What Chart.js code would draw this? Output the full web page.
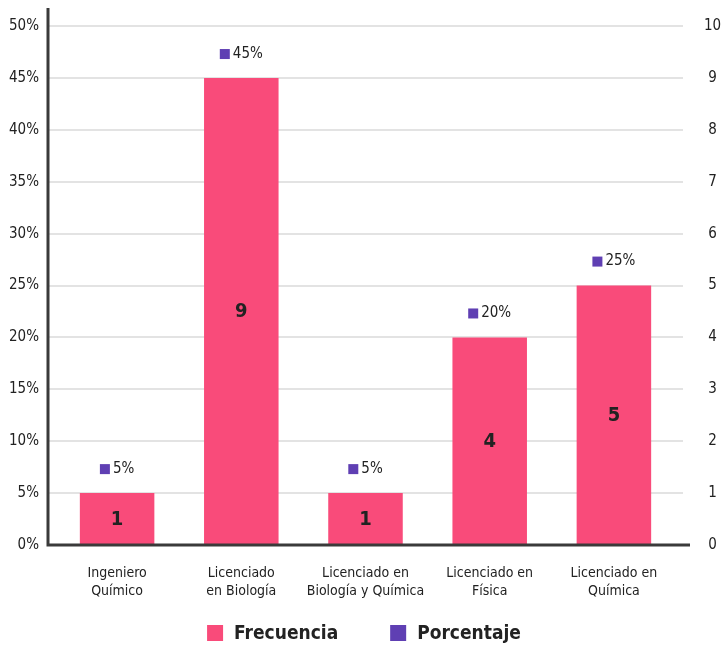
<!DOCTYPE html>
<html>
<head>
<meta charset="utf-8">
<script src="https://cdn.jsdelivr.net/npm/chart.js@4.4.1/dist/chart.umd.min.js"></script>
<style>
  body { margin: 0; background: #fff; }
  #wrap { width: 724px; height: 646px; }
</style>
</head>
<body>
<div id="wrap"><canvas id="chart"></canvas></div>
<script>
const categories = [
    ['Ingeniero', 'Químico'],
    ['Licenciado', 'en Biología'],
    ['Licenciado en', 'Biología y Química'],
    ['Licenciado en', 'Física'],
    ['Licenciado en', 'Química']
];
const frecuencia = [1, 9, 1, 4, 5];
const porcentaje = [5, 45, 5, 20, 25];
const pctTicks = { min: 0, max: 50, step: 5 };
const freqTicks = { min: 0, max: 10, step: 1 };

const FONT = "'DejaVu Sans Condensed', 'DejaVu Sans', sans-serif";
const PINK = '#F94B7A';
const PURPLE = '#5F3FB3';
const TEXT = '#222';
const AXIS = '#3a3a3a';
const GRID = '#e3e3e3';

// room above the top tick (reference axis runs a bit past 50%)
const headroom = 1.035;

const extras = {
    id: 'extras',
    afterDatasetsDraw(chart) {
        const ctx = chart.ctx;
        const area = chart.chartArea;
        ctx.save();

        // values inside bars
        const bars = chart.getDatasetMeta(0);
        ctx.font = 'bold 20px ' + FONT;
        ctx.fillStyle = TEXT;
        ctx.textAlign = 'center';
        ctx.textBaseline = 'middle';
        bars.data.forEach((bar, i) => {
            ctx.fillText(String(frecuencia[i]), bar.x, (bar.y + bar.base) / 2 + 1);
        });

        // percentage labels with legend key above bars
        const pts = chart.getDatasetMeta(1);
        ctx.font = '15px ' + FONT;
        ctx.textAlign = 'left';
        pts.data.forEach((pt, i) => {
            const txt = porcentaje[i] + '%';
            const tw = ctx.measureText(txt).width;
            const gw = 10 + 3 + tw;
            const x0 = pt.x - gw / 2;
            const y0 = pt.y - 24;
            ctx.fillStyle = PURPLE;
            ctx.fillRect(x0, y0 - 5, 10, 10);
            ctx.fillStyle = TEXT;
            ctx.fillText(txt, x0 + 13, y0);
        });

        // axis lines
        ctx.strokeStyle = AXIS;
        ctx.lineWidth = 3;
        ctx.beginPath();
        ctx.moveTo(area.left - 7, area.top);
        ctx.lineTo(area.left - 7, area.bottom + 1.5);
        ctx.moveTo(area.left - 8.5, area.bottom);
        ctx.lineTo(area.right + 14, area.bottom);
        ctx.stroke();

        // legend
        ctx.font = 'bold 19px ' + FONT;
        ctx.textBaseline = 'middle';
        const items = chart.data.datasets.map(d => ({
            text: d.label,
            color: d.legendColor,
            w: 16 + 11 + ctx.measureText(d.label).width
        }));
        const gap = 52;
        const total = items.reduce((s, it) => s + it.w, 0) + gap * (items.length - 1);
        let x = chart.width / 2 + 2 - total / 2;
        const ly = chart.height - 13;
        items.forEach(it => {
            ctx.fillStyle = it.color;
            ctx.fillRect(x, ly - 8, 16, 16);
            ctx.fillStyle = TEXT;
            ctx.fillText(it.text, x + 27, ly + 1);
            x += it.w + gap;
        });

        ctx.restore();
    }
};

new Chart(document.getElementById('chart'), {
    data: {
        labels: categories,
        datasets: [
            {
                type: 'bar',
                label: 'Frecuencia',
                data: frecuencia,
                yAxisID: 'y1',
                backgroundColor: PINK,
                legendColor: PINK,
                barPercentage: 0.6,
                categoryPercentage: 1,
                order: 2
            },
            {
                type: 'line',
                label: 'Porcentaje',
                data: porcentaje,
                yAxisID: 'y',
                showLine: false,
                pointRadius: 0,
                pointHoverRadius: 0,
                backgroundColor: PURPLE,
                legendColor: PURPLE,
                order: 1
            }
        ]
    },
    options: {
        responsive: true,
        maintainAspectRatio: false,
        animation: false,
        events: [],
        layout: { padding: { top: 8, right: 0, bottom: 45, left: 0 } },
        plugins: {
            legend: { display: false },
            tooltip: { enabled: false }
        },
        scales: {
            x: {
                grid: { display: false, drawTicks: false },
                border: { display: false },
                ticks: {
                    font: { family: FONT, size: 14, lineHeight: 1.3 },
                    color: TEXT,
                    padding: 19,
                    maxRotation: 0,
                    autoSkip: false
                },
                afterFit(s) { s.height = 56; s.paddingLeft = 0; s.paddingRight = 0; }
            },
            y: {
                position: 'left',
                min: pctTicks.min,
                max: pctTicks.max * headroom,
                grid: { color: GRID, lineWidth: 2, drawTicks: true, tickLength: 7 },
                border: { display: false },
                ticks: {
                    stepSize: pctTicks.step,
                    includeBounds: false,
                    font: { family: FONT, size: 15 },
                    color: TEXT,
                    padding: 9,
                    callback: v => v + '%'
                },
                afterFit(s) { s.width = 55; s.paddingTop = 0; s.paddingBottom = 0; }
            },
            y1: {
                position: 'right',
                min: freqTicks.min,
                max: freqTicks.max * headroom,
                grid: { color: GRID, lineWidth: 2, drawOnChartArea: false, drawTicks: true, tickLength: 7 },
                border: { display: false },
                ticks: {
                    stepSize: freqTicks.step,
                    includeBounds: false,
                    font: { family: FONT, size: 15 },
                    color: TEXT,
                    padding: 21,
                    crossAlign: 'center'
                },
                afterFit(s) { s.width = 48; s.paddingTop = 0; s.paddingBottom = 0; }
            }
        }
    },
    plugins: [extras]
});
</script>
</body>
</html>
